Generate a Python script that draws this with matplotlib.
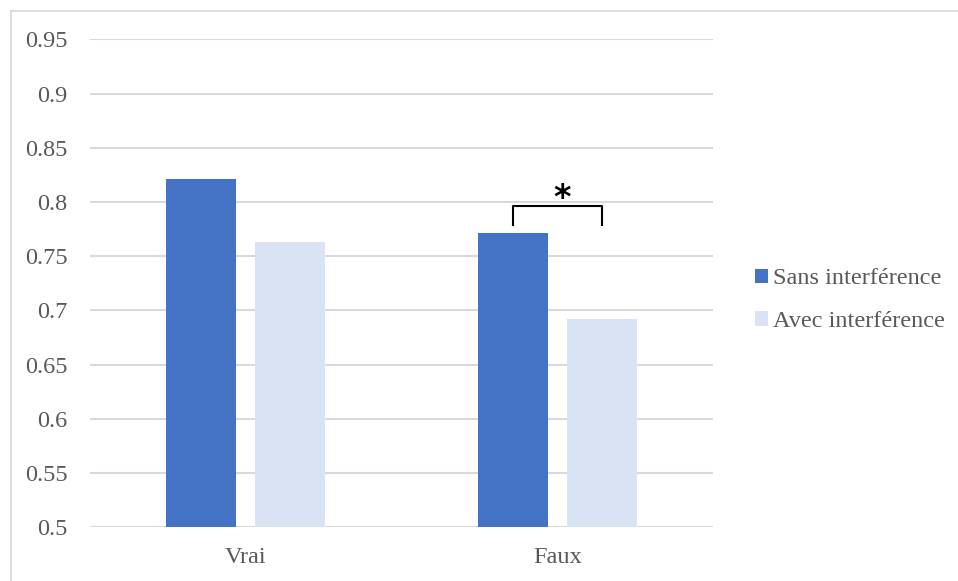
import matplotlib
matplotlib.use("Agg")
import matplotlib.pyplot as plt
from matplotlib.lines import Line2D
import numpy as np

categories = ["Vrai", "Faux"]
series_names = ["Sans interférence", "Avec interférence"]
sans_values = [0.821, 0.771]
avec_values = [0.763, 0.692]
y_ticks = [0.5, 0.55, 0.6, 0.65, 0.7, 0.75, 0.8, 0.85, 0.9, 0.95]

blue = "#4472C4"
light = "#DAE3F3"
grey_text = "#595959"
grid_col = "#D9D9D9"

plt.rcParams["font.family"] = ["Liberation Serif", "DejaVu Serif"]

fig = plt.figure(figsize=(9.58, 5.81), dpi=100)
ax = fig.add_axes([0.0939, 0.0924, 0.6503, 0.84])

x = np.arange(len(categories))
w = 0.225
off = 0.143
ax.bar(x - off, sans_values, w, color=blue, label=series_names[0], zorder=3)
ax.bar(x + off, avec_values, w, color=light, label=series_names[1], zorder=3)

ax.set_xlim(-0.5, 1.5)
ax.set_ylim(0.5, 0.95)
ax.set_yticks(y_ticks)
ax.set_yticklabels([f"{v:g}" for v in y_ticks])
ax.set_xticks(x)
ax.set_xticklabels(categories)
ax.yaxis.grid(True, color=grid_col, linewidth=1.5, zorder=0)
ax.set_axisbelow(True)
for s in ax.spines.values():
    s.set_visible(False)
ax.tick_params(axis="y", length=0, pad=16, labelsize=17.5, labelcolor=grey_text)
ax.tick_params(axis="x", length=0, pad=14, labelsize=17.5, labelcolor=grey_text)

# significance bracket over the "Faux" pair
bx0, bx1 = x[1] - off, x[1] + off
ax.plot([bx0, bx0, bx1, bx1], [0.779, 0.796, 0.796, 0.779],
        color="black", linewidth=1.5, clip_on=False, zorder=4)
ax.text(x[1] + 0.015, 0.7945, "*", ha="center", va="baseline",
        fontsize=24, fontweight="bold", family="DejaVu Sans", color="black")

fig.legend(loc="center left", bbox_to_anchor=(0.788, 0.483), frameon=False,
           fontsize=17.5, labelcolor=grey_text, handlelength=0.55,
           handleheight=0.55, handletextpad=0.2, labelspacing=0.9,
           borderpad=0, borderaxespad=0)

# chart frame (top and left edges only)
fig.add_artist(Line2D([10.5 / 958, 1], [1 - 10.5 / 581, 1 - 10.5 / 581],
                      transform=fig.transFigure, color=grid_col, linewidth=1.2))
fig.add_artist(Line2D([10.5 / 958, 10.5 / 958], [0, 1 - 10.5 / 581],
                      transform=fig.transFigure, color=grid_col, linewidth=1.2))

fig.savefig("out.png", dpi=100)
